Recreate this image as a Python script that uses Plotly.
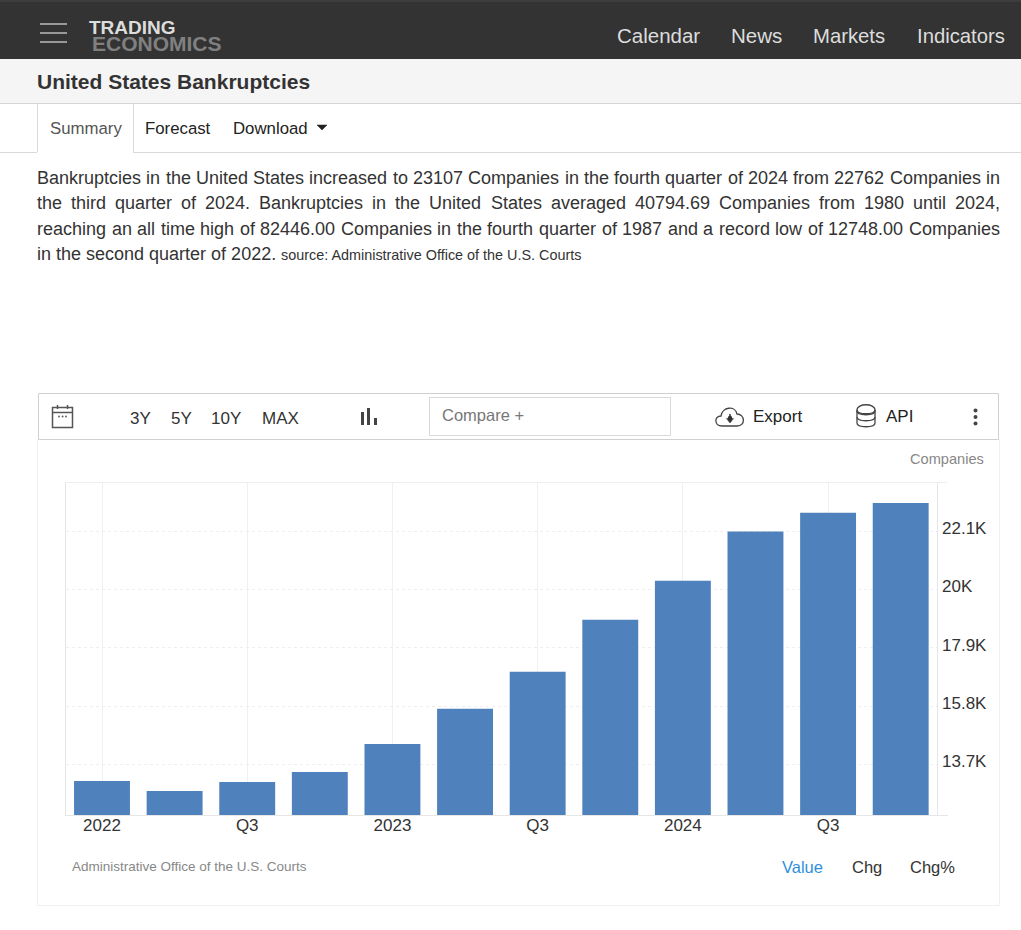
import plotly.graph_objects as go

W = 1021
H = 930

quarters = ["2022 Q1", "2022 Q2", "2022 Q3", "2022 Q4",
            "2023 Q1", "2023 Q2", "2023 Q3", "2023 Q4",
            "2024 Q1", "2024 Q2", "2024 Q3", "2024 Q4"]
bankruptcies = [13100, 12748, 13070, 13430, 14440, 15700, 17035, 18910, 20315, 22080, 22762, 23107]

x_tick_quarters = ["2022 Q1", "2022 Q3", "2023 Q1", "2023 Q3", "2024 Q1", "2024 Q3"]
x_tick_labels = ["2022", "Q3", "2023", "Q3", "2024", "Q3"]
y_tick_values = [13700, 15800, 17900, 20000, 22100]
y_tick_labels = ["13.7K", "15.8K", "17.9K", "20K", "22.1K"]
y_min = 11880
y_max = 23866

para_line1 = "Bankruptcies in the United States increased to 23107 Companies in the fourth quarter of 2024 from 22762 Companies in"
para_line2 = "the third quarter of 2024. Bankruptcies in the United States averaged 40794.69 Companies from 1980 until 2024,"
para_line3 = "reaching an all time high of 82446.00 Companies in the fourth quarter of 1987 and a record low of 12748.00 Companies"
para_line4 = "in the second quarter of 2022."
para_source = "source: Administrative Office of the U.S. Courts"

FONT = "Liberation Sans, Arial, sans-serif"

# Arial advance widths, used to justify the paragraph like the page does
CHAR_W = dict(a=556, b=556, c=500, d=556, e=556, f=278, g=556, h=556, i=222, k=500, l=222, m=833, n=556, o=556,
              p=556, q=556, r=333, s=500, t=278, u=556, v=500, w=722, y=500, B=667, C=722, S=667, U=722)
CHAR_W.update({c: 556 for c in "0123456789"})
CHAR_W.update({".": 278, ",": 278})


def word_width(word, size):
    return sum(CHAR_W[c] for c in word) * size / 1000


def px(x):
    return x / W


def py(y):
    return 1 - y / H


shapes = []
annotations = []


def rect(x0, y0, x1, y1, fill="rgba(0,0,0,0)", line=None, width=1):
    shapes.append(dict(type="rect", xref="paper", yref="paper", x0=px(x0), x1=px(x1), y0=py(y0), y1=py(y1),
                       fillcolor=fill, line=dict(color=line, width=width if line else 0), layer="below"))


def hline(x0, y0, x1, y1, color, width=1):
    shapes.append(dict(type="line", xref="paper", yref="paper", x0=px(x0), x1=px(x1), y0=py(y0), y1=py(y1),
                       line=dict(color=color, width=width), layer="below"))


def circle(cx, cy, r, fill):
    shapes.append(dict(type="circle", xref="paper", yref="paper", x0=px(cx - r), x1=px(cx + r),
                       y0=py(cy + r), y1=py(cy - r), fillcolor=fill, line=dict(width=0), layer="below"))


def path(points, color, width=1.5, fill="rgba(0,0,0,0)"):
    # points are (command, x, y, ...) in page pixels
    parts = []
    for p in points:
        nums = p[1:]
        coords = [f"{px(nums[i])},{py(nums[i + 1])}" for i in range(0, len(nums), 2)]
        parts.append(p[0] + " ".join(coords))
    shapes.append(dict(type="path", xref="paper", yref="paper", path=" ".join(parts),
                       line=dict(color=color, width=width), fillcolor=fill, layer="below"))


def label(x, y, text, size, color="#333333", anchor="left", bold=False):
    if bold:
        text = f"<b>{text}</b>"
    annotations.append(dict(x=px(x), y=py(y), xref="paper", yref="paper", text=text, showarrow=False,
                            xanchor=anchor, yanchor="middle", borderpad=0, borderwidth=0,
                            font=dict(family=FONT, size=size, color=color)))


def justified(line, y, left=37, right=1000, size=18):
    words = line.split(" ")
    total = sum(word_width(w, size) for w in words)
    gap = (right - left - total) / (len(words) - 1)
    x = left
    for w in words:
        label(x, y, w, size)
        x += word_width(w, size) + gap


# page bands
rect(0, 0, W, 59, fill="#333333")
rect(0, 0, W, 2, fill="#3d3d3d")
rect(0, 59, W, 103, fill="#f5f5f5")
hline(0, 103.5, W, 103.5, "#d4d4d4")
hline(0, 152.5, 37, 152.5, "#d9d9d9")
hline(133, 152.5, W, 152.5, "#d9d9d9")
hline(37.5, 103, 37.5, 152, "#d9d9d9")
hline(133.5, 103, 133.5, 152, "#d9d9d9")

# hamburger
for y in [24, 33, 42]:
    hline(40, y, 67, y, "#999999", 2)

label(89, 27.5, "TRADING", 19, "#dddddd", bold=True)
label(92, 43, "ECONOMICS", 21, "#808080", bold=True)
label(617, 36, "Calendar", 20.5, "#dddddd")
label(731, 36, "News", 20.5, "#dddddd")
label(813, 36, "Markets", 20.3, "#dddddd")
label(917, 36, "Indicators", 20.3, "#dddddd")

label(37, 82, "United States Bankruptcies", 21, "#333333", bold=True)
label(50, 128, "Summary", 16.8, "#555555")
label(145, 128, "Forecast", 16.8, "#222222")
label(233, 128, "Download", 16.8, "#222222")
path([("M", 317, 125), ("L", 327, 125), ("L", 322, 130), ("Z",)], "#222222", 0.5, "#222222")

# paragraph, first three lines are justified in the original
justified(para_line1, 178)
justified(para_line2, 203)
justified(para_line3, 229)
label(37, 254, para_line4, 18, "#333333")
label(281, 255, para_source, 14.4, "#333333")

# toolbar
rect(37.5, 439, 999.5, 905.5, fill="#ffffff", line="#f0f0f0")
rect(38.5, 393.5, 998.5, 439.5, fill="#ffffff", line="#d0d0d0")
rect(429.5, 397.5, 670.5, 435.5, fill="#ffffff", line="#d8d8d8")

# calendar icon
rect(52.5, 407.5, 72.5, 427.5, line="#555555", width=1.5)
hline(52.5, 412.5, 72.5, 412.5, "#555555", 1.5)
hline(57.5, 405, 57.5, 409, "#555555", 1.5)
hline(67.5, 405, 67.5, 409, "#555555", 1.5)
for x in [59, 62.6, 66]:
    circle(x, 416.5, 0.9, "#555555")

label(130, 418, "3Y", 17, "#333333")
label(171, 418, "5Y", 17, "#333333")
label(211, 418, "10Y", 17, "#333333")
label(262, 418, "MAX", 17, "#333333")

# bars icon
rect(361, 412, 364, 425, fill="#444444")
rect(367, 408, 370, 425, fill="#444444")
rect(374, 418, 377, 425, fill="#444444")

label(442, 415, "Compare +", 16.5, "#777777")

# cloud icon
path([("M", 722, 426), ("C", 714, 426, 714, 416, 721, 416), ("C", 722, 407, 735, 405, 737, 414),
      ("C", 745, 414, 746, 426, 737, 426), ("Z",)], "#444444", 1.3)
circle(730, 418, 2.2, "#333333")
hline(730, 414, 730, 418, "#333333", 1.5)
path([("M", 726.5, 418.5), ("L", 733.5, 418.5), ("L", 730, 423), ("Z",)], "#333333", 0.5, "#333333")
label(753, 416.5, "Export", 17, "#222222")

# database icon
for y in [411, 417, 423]:
    path([("M", 857, y), ("C", 857, y + 5, 875, y + 5, 875, y)], "#444444", 1.3)
path([("M", 857, 410), ("C", 857, 403, 875, 403, 875, 410), ("C", 875, 415, 857, 415, 857, 410), ("Z",)], "#444444", 1.3)
hline(857, 410, 857, 423, "#444444", 1.3)
hline(875, 410, 875, 423, "#444444", 1.3)
label(886, 416.5, "API", 17, "#222222")

for y in [410.5, 417, 423.5]:
    circle(975.5, y, 2, "#444444")

# plot frame
hline(65, 482.5, 947, 482.5, "#eeeeee")
hline(65, 815.5, 948, 815.5, "#e6e6e6")
hline(65.5, 482, 65.5, 815, "#e6e6e6")
hline(937.5, 482, 937.5, 815, "#e6e6e6")

label(984, 459, "Companies", 14.6, "#888888", anchor="right")
label(72, 866, "Administrative Office of the U.S. Courts", 13.5, "#888888")
label(782, 867, "Value", 16.5, "#2f8fdc")
label(852, 867, "Chg", 16.5, "#333333")
label(910, 867, "Chg%", 16.5, "#333333")

fig = go.Figure()
fig.add_trace(go.Bar(x=quarters, y=bankruptcies, marker=dict(color="#4f81bd", line=dict(width=0)), width=0.77))

fig.update_layout(
    width=W, height=H,
    margin=dict(l=0, r=0, t=0, b=0),
    paper_bgcolor="#ffffff", plot_bgcolor="rgba(0,0,0,0)",
    showlegend=False,
    shapes=shapes,
    annotations=annotations,
    font=dict(family=FONT, color="#333333"),
)
fig.update_xaxes(
    domain=[px(65.7), px(937)],
    type="category", categoryorder="array", categoryarray=quarters,
    range=[-0.5, 11.5],
    tickmode="array", tickvals=x_tick_quarters, ticktext=x_tick_labels,
    tickfont=dict(size=17, color="#333333"),
    showgrid=True, gridcolor="#f0f0f0", gridwidth=1, griddash="solid",
    zeroline=False, ticks="", ticklen=0, ticklabelstandoff=-2,
)
fig.update_yaxes(
    domain=[py(815), py(482)],
    range=[y_min, y_max],
    side="right",
    tickmode="array", tickvals=y_tick_values, ticktext=y_tick_labels,
    tickfont=dict(size=17, color="#333333"),
    showgrid=True, gridcolor="#eeeeee", gridwidth=1, griddash="dot",
    zeroline=False, ticks="", ticklabelstandoff=4, ticklabelshift=-3,
)

fig.write_html("out.html", config=dict(displayModeBar=False),
               post_script="document.body.style.margin='0';document.body.style.overflow='hidden';")
